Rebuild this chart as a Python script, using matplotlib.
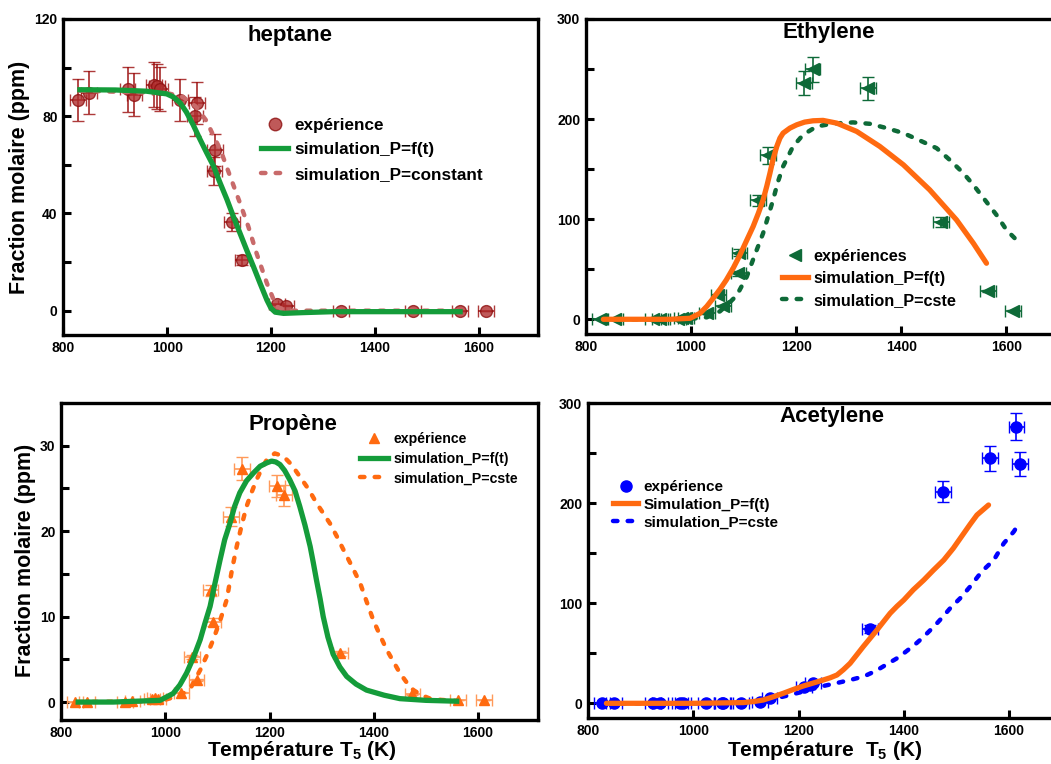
import matplotlib
matplotlib.use("Agg")
import matplotlib.pyplot as plt
from matplotlib.lines import Line2D
from matplotlib.ticker import MultipleLocator

plt.rcParams['font.family'] = ['Liberation Sans', 'DejaVu Sans']
plt.rcParams['font.weight'] = 'bold'
plt.rcParams['axes.labelweight'] = 'bold'
plt.rcParams['mathtext.fontset'] = 'custom'
plt.rcParams['mathtext.rm'] = 'Liberation Sans:bold'
plt.rcParams['mathtext.default'] = 'rm'

# ---- data ----
# heptane
hep_T = [828, 850, 924, 937, 975, 980, 986, 1025, 1054, 1057, 1091, 1092, 1125, 1145, 1212, 1229, 1335, 1473, 1564, 1614]
hep_y = [86.8, 89.7, 91, 88.8, 93, 92.4, 91.3, 86.8, 80, 85.4, 57.4, 66.2, 36.6, 20.7, 2.6, 2, 0, 0, 0, 0]
hep_ft_T = [832, 900, 960, 999, 1012, 1025, 1037, 1050, 1063, 1076, 1089, 1102, 1115, 1127, 1140, 1153, 1166, 1179, 1192, 1200, 1208, 1224, 1260, 1320, 1564]
hep_ft_y = [90.9, 90.8, 90.3, 89.2, 87.9, 85.5, 81.7, 76.5, 70.6, 65, 59.6, 52.5, 45.8, 39, 32, 25, 18.2, 11.2, 4.4, 1, -0.6, -1.1, -0.8, -0.4, -0.4]
hep_cst_T = [832, 1000, 1030, 1055, 1076, 1090, 1102, 1121, 1140, 1156, 1172, 1192, 1204, 1211, 1230, 1564]
hep_cst_y = [90.5, 89.5, 88, 84, 78, 71.5, 66.5, 55.4, 44.4, 34.8, 23.7, 11.3, 5, 1.7, 0, 0]

# ethylene
eth_T = [827, 855, 928, 941, 975, 982, 991, 1030, 1052, 1060, 1090, 1092, 1128, 1147, 1215, 1231, 1337, 1475, 1565, 1613]
eth_y = [0, 0, 0, 0, 0.5, 1, 1.7, 6, 24, 13.3, 46, 66.7, 118.7, 163.7, 236, 250, 231, 97, 28.3, 8.7]
eth_ft_T = [833, 900, 960, 998, 1017, 1030, 1042, 1055, 1067, 1080, 1093, 1105, 1118, 1128, 1137, 1144, 1150, 1156,
            1163, 1169, 1175, 1188, 1201, 1216, 1232, 1251, 1277, 1315, 1359, 1404, 1454, 1505, 1537, 1562]
eth_ft_y = [0, 0, 0, 1, 6, 13, 21, 30, 39.3, 51, 64.3, 78, 92.7, 106, 119.3, 133, 146, 160,
            172.7, 181, 186, 191, 194.3, 197, 198.3, 198.7, 196, 187.7, 172.7, 154.3, 129.3, 99.3, 76, 56]
eth_cst_T = [833, 990, 1030, 1055, 1070, 1087, 1106, 1121, 1137, 1156, 1165, 1175, 1194, 1213, 1239, 1270, 1308,
             1340, 1372, 1404, 1435, 1467, 1492, 1518, 1537, 1559, 1581, 1600, 1622]
eth_cst_y = [0, 0, 2, 8, 15, 24, 42.7, 64, 86, 119.3, 137, 152.7, 172.7, 184.3, 192.7, 195.5, 196.7,
             195.3, 191, 186, 178.7, 171, 159.3, 146, 134.3, 119.3, 104.3, 89.3, 77.7]

# propene
pro_T = [827, 850, 923, 937, 975, 980, 986, 1031, 1051, 1060, 1087, 1091, 1126, 1147, 1214, 1228, 1336, 1474, 1562, 1612]
pro_y = [0, 0, 0, 0.1, 0.3, 0.5, 0.4, 1.1, 5.3, 2.6, 13.1, 9.4, 21.7, 27.3, 25.3, 24.2, 5.7, 0.9, 0.2, 0.2]
pro_ft_T = [833, 900, 990, 1015, 1028, 1041, 1054, 1067, 1076, 1086, 1095, 1105, 1114, 1124, 1133, 1143, 1156, 1169,
            1182, 1195, 1204, 1212, 1220, 1229, 1239, 1249, 1258, 1268, 1278, 1284, 1290, 1297, 1303, 1312, 1322,
            1335, 1348, 1366, 1386, 1420, 1450, 1500, 1559]
pro_ft_y = [0, 0, 0.2, 1, 2, 3.4, 5.2, 7.3, 9.2, 11.2, 13.8, 16.6, 19, 20.9, 22.9, 24.5, 25.9, 26.8,
            27.6, 28, 28.2, 28.1, 27.8, 27.1, 26, 24.7, 22.9, 20.7, 18.2, 16.3, 14.3, 12.1, 10, 7.6, 5.6,
            4.1, 3, 2.1, 1.4, 0.8, 0.4, 0.2, 0.1]
pro_cst_T = [833, 990, 1030, 1050, 1067, 1080, 1092, 1105, 1118, 1128, 1137, 1147, 1156, 1166, 1175, 1185, 1195,
             1210, 1226, 1242, 1258, 1275, 1290, 1303, 1316, 1329, 1342, 1358, 1374, 1386, 1399, 1412, 1425,
             1438, 1450, 1463, 1476, 1492, 1508, 1530, 1559]
pro_cst_y = [0, 0.1, 0.8, 1.8, 3.75, 5.5, 7.3, 9.5, 12, 15.5, 18.2, 20.8, 22.9, 24.6, 26, 27.3, 28.4,
             29.1, 28.8, 27.8, 26.4, 24.9, 23.3, 22.1, 20.9, 19.4, 17.8, 15.9, 13.9, 11.8, 9.6, 7.8, 6.1,
             4.7, 3.4, 2.3, 1.4, 0.8, 0.4, 0.25, 0.15]

# acetylene
ace_T = [826, 850, 924, 937, 975, 981, 1024, 1054, 1057, 1090, 1127, 1145, 1211, 1228, 1336, 1474, 1564, 1614, 1621]
ace_y = [0, 0, 0, 0, 0, 0, 0, 0, 0, 0.7, 1.7, 5, 16.7, 20.7, 74.3, 211.7, 245, 276.7, 239.3]
ace_ft_T = [835, 1000, 1095, 1115, 1133, 1152, 1171, 1190, 1209, 1228, 1247, 1260, 1273, 1285, 1298, 1310, 1323,
            1336, 1349, 1362, 1374, 1387, 1400, 1418, 1438, 1456, 1476, 1494, 1514, 1526, 1539, 1561]
ace_ft_y = [0, 0, 0.7, 1.8, 3.3, 6.5, 10, 13.8, 17.3, 20.3, 23.3, 25.5, 28.3, 33.5, 40, 48, 56.7,
            65, 73.3, 82, 90, 97, 103.3, 113.5, 123.3, 133, 143.3, 155, 170, 179, 188.3, 198.3]
ace_cst_T = [835, 1000, 1100, 1133, 1152, 1171, 1190, 1209, 1228, 1247, 1273, 1298, 1314, 1330, 1343, 1355, 1371,
             1387, 1400, 1412, 1425, 1438, 1450, 1463, 1475, 1488, 1507, 1526, 1548, 1571, 1590, 1609, 1621]
ace_cst_y = [0, 0, 0.5, 2.7, 4.5, 6.7, 9.2, 11.7, 14.5, 17.3, 20.3, 23.3, 25.5, 28.3, 31.5, 35, 40,
             45, 50, 55, 60.5, 66.7, 73, 80, 87, 95, 105, 116.7, 131.7, 143.3, 160, 171.7, 181.7]

# relative y error and absolute temperature error of the measurements
rel_err_hep = 0.10
rel_err = 0.05
T_err = 15

ORANGE = '#ff6a10'
GREEN = '#149c3a'
DKGREEN = '#0e6a38'
BLUE = '#0000ff'
RED = '#b03030'
ROSY = '#c86a6a'

W, H = 1051, 764
fig = plt.figure(figsize=(W / 100, H / 100), dpi=100)


def px_axes(left, top, right, bottom):
    return fig.add_axes([left / W, 1 - bottom / H, (right - left) / W, (bottom - top) / H])


def style(ax, xlim, ylim, major, minor):
    ax.set_xlim(*xlim)
    ax.set_ylim(*ylim)
    ax.xaxis.set_major_locator(MultipleLocator(200))
    ax.yaxis.set_major_locator(MultipleLocator(major))
    ax.yaxis.set_minor_locator(MultipleLocator(minor))
    ax.tick_params(which='both', direction='in', width=2.2, labelsize=10)
    ax.tick_params(which='major', length=6)
    ax.tick_params(which='minor', length=6)
    ax.tick_params(axis='x', pad=4)
    ax.tick_params(axis='y', pad=4)
    for s in ax.spines.values():
        s.set_linewidth(2.4)


def legend(ax, handles, labels, x, y, size, ls, hl):
    ax.legend(handles, labels, loc='upper left', bbox_to_anchor=(x / W, 1 - y / H),
              bbox_transform=fig.transFigure, frameon=False, borderpad=0, borderaxespad=0,
              fontsize=size, labelspacing=ls, handlelength=hl, handletextpad=0.35)


dash = (0, (1.0, 2.3))

# ---- heptane ----
ax1 = px_axes(63.3, 19, 538, 335)
style(ax1, (800, 1714), (-10, 120), 40, 20)
ax1.errorbar(hep_T, hep_y, yerr=[v * rel_err_hep for v in hep_y], xerr=T_err, fmt='o', ms=8.5,
             mfc=RED, mec='#8e1010', alpha=0.8, ecolor='#9a0a0a', elinewidth=1.3, capsize=4, zorder=2)
ax1.plot(hep_cst_T, hep_cst_y, color=ROSY, lw=3.2, ls=dash, dash_capstyle='round', zorder=3)
ax1.plot(hep_ft_T, hep_ft_y, color=GREEN, lw=3.8, zorder=4)
ax1.text(0.4775, 0.949, 'heptane', transform=ax1.transAxes, ha='center', va='center', fontsize=16)
legend(ax1,
       [Line2D([], [], ls='', marker='o', ms=9, mfc=RED, mec='#8e1010', alpha=0.8),
        Line2D([], [], color=GREEN, lw=3.8),
        Line2D([], [], color=ROSY, lw=3.2, ls=dash, dash_capstyle='round')],
       ['expérience', 'simulation_P=f(t)', 'simulation_P=constant'], 261, 118, 12.3, 0.55, 1.6)

# ---- ethylene ----
ax2 = px_axes(586, 19, 1059, 334.3)
style(ax2, (800, 1700), (-15, 300), 100, 50)
ax2.errorbar(eth_T, eth_y, yerr=[v * rel_err for v in eth_y], xerr=T_err, fmt='<', ms=8,
             color=DKGREEN, ecolor=DKGREEN, elinewidth=1.2, capsize=4, zorder=2)
ax2.plot(eth_cst_T, eth_cst_y, color=DKGREEN, lw=3.2, ls=dash, dash_capstyle='round', zorder=3)
ax2.plot(eth_ft_T, eth_ft_y, color=ORANGE, lw=3.8, solid_capstyle='round', zorder=4)
ax2.text(0.514, 0.956, 'Ethylene', transform=ax2.transAxes, ha='center', va='center', fontsize=16)
legend(ax2,
       [Line2D([], [], ls='', marker='<', ms=9, color=DKGREEN),
        Line2D([], [], color=ORANGE, lw=3.8),
        Line2D([], [], color=DKGREEN, lw=3.2, ls=dash, dash_capstyle='round')],
       ['expériences', 'simulation_P=f(t)', 'simulation_P=cste'], 782, 249, 11.7, 0.42, 1.6)

# ---- propene ----
ax3 = px_axes(61, 403, 538, 720)
style(ax3, (800, 1715), (-2.1, 35), 10, 5)
ax3.errorbar(pro_T, pro_y, yerr=[v * rel_err for v in pro_y], xerr=T_err, fmt='^', ms=7,
             color=ORANGE, ecolor='#ff9a5a', elinewidth=1.2, capsize=4, zorder=2)
ax3.plot(pro_cst_T, pro_cst_y, color=ORANGE, lw=3.2, ls=dash, dash_capstyle='round', zorder=3)
ax3.plot(pro_ft_T, pro_ft_y, color=GREEN, lw=3.8, zorder=4)
ax3.text(0.486, 0.931, 'Propène', transform=ax3.transAxes, ha='center', va='center', fontsize=16)
legend(ax3,
       [Line2D([], [], ls='', marker='^', ms=7, color=ORANGE),
        Line2D([], [], color=GREEN, lw=3.8),
        Line2D([], [], color=ORANGE, lw=3.2, ls=dash, dash_capstyle='round')],
       ['expérience', 'simulation_P=f(t)', 'simulation_P=cste'], 360, 432, 10.2, 0.4, 2.0)

# ---- acetylene ----
ax4 = px_axes(588, 403.3, 1061.7, 718.3)
style(ax4, (800, 1700), (-15, 300), 100, 50)
ax4.errorbar(ace_T, ace_y, yerr=[v * rel_err for v in ace_y], xerr=T_err, fmt='o', ms=8,
             color=BLUE, ecolor=BLUE, elinewidth=1.2, capsize=4, zorder=2)
ax4.plot(ace_cst_T, ace_cst_y, color=BLUE, lw=3.2, ls=dash, dash_capstyle='round', zorder=3)
ax4.plot(ace_ft_T, ace_ft_y, color=ORANGE, lw=3.8, solid_capstyle='round', zorder=4)
ax4.text(0.514, 0.957, 'Acetylene', transform=ax4.transAxes, ha='center', va='center', fontsize=16)
legend(ax4,
       [Line2D([], [], ls='', marker='o', ms=8, color=BLUE),
        Line2D([], [], color=ORANGE, lw=3.8),
        Line2D([], [], color=BLUE, lw=3.2, ls=dash, dash_capstyle='round')],
       ['expérience', 'Simulation_P=f(t)', 'simulation_P=cste'], 613, 480, 11, 0.25, 1.65)

# axis labels
fig.text(20 / W, 1 - 177 / H, 'Fraction molaire (ppm)', rotation=90, ha='center', va='center', fontsize=15.5)
fig.text(26 / W, 1 - 560 / H, 'Fraction molaire (ppm)', rotation=90, ha='center', va='center', fontsize=15.5)
fig.text(302 / W, 1.5 / H, 'Température T$_5$ (K)', ha='center', va='bottom', fontsize=15)
fig.text(825 / W, 1.5 / H, 'Température  T$_5$ (K)', ha='center', va='bottom', fontsize=15)

fig.savefig('out.png', dpi=100)
